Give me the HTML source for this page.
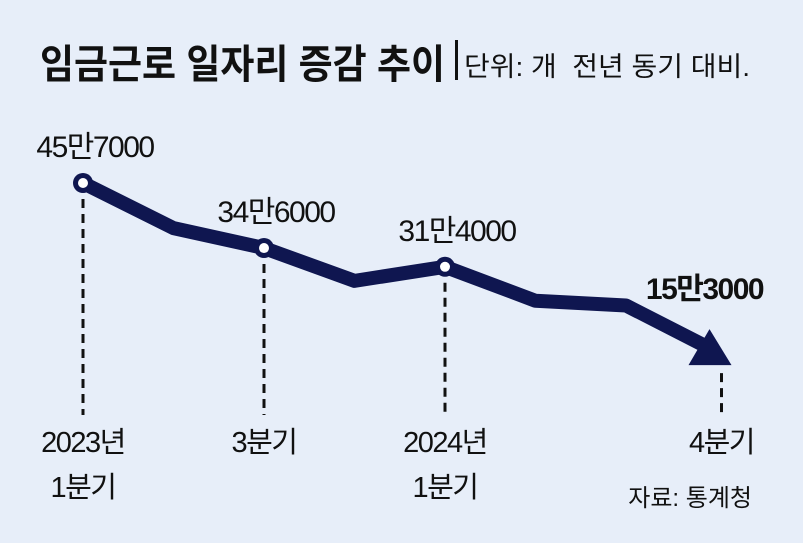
<!DOCTYPE html>
<html><head><meta charset="utf-8"><style>
body{margin:0;background:#e7eef9;}
svg{display:block;font-family:"Liberation Sans","Noto Sans CJK KR",sans-serif;}
</style></head><body>
<svg id="c" width="803" height="543" viewBox="0 0 803 543">
<rect width="803" height="543" fill="#e7eef9"/>
<text x="40" y="78" font-size="40" font-weight="bold" fill="#111" textLength="405" lengthAdjust="spacingAndGlyphs">임금근로 일자리 증감 추이</text>
<rect x="455" y="40" width="3" height="40" fill="#111"/>
<text x="464" y="76" font-size="27" fill="#111" textLength="286" lengthAdjust="spacingAndGlyphs">단위: 개 &#160;전년 동기 대비.</text>
<text x="752" y="506" font-size="24" fill="#111" text-anchor="end">자료: 통계청</text>
<g id="g"></g>
</svg>
<script>
const quarters=["2023Q1","2023Q2","2023Q3","2023Q4","2024Q1","2024Q2","2024Q3","2024Q4"];
const values=[45.7,38.0,34.6,29.0,31.4,25.6,24.8,15.3];
const labelTexts=["45만7000","","34만6000","","31만4000","","","15만3000"];
const axisLine1=["2023년","","3분기","","2024년","","","4분기"];
const axisLine2=["1분기","","","","1분기","","",""];
const NS="http://www.w3.org/2000/svg";
const g=document.getElementById('g');
const xs=i=>83+i*90.5;
const ys=v=>183+(45.7-v)*5.86;
function mk(t,a){const e=document.createElementNS(NS,t);for(const k in a)e.setAttribute(k,a[k]);g.appendChild(e);return e;}
const n=values.length;
for(let i=0;i<n;i++){if(!axisLine1[i])continue;
 const last=i===n-1;const x=xs(i)+(last?5:0);
 const y0=last?ys(values[i])+12:ys(values[i])+16;
 const d=mk('line',{x1:x,y1:y0,x2:x,y2:415,stroke:'#111','stroke-width':3,'stroke-dasharray':'9 6'});
 
 
}
let pts=[];for(let i=0;i<n-1;i++)pts.push(xs(i)+','+ys(values[i]));
const lx=xs(n-1)-6,ly=ys(values[n-1]);
pts.push((lx-3)+','+(ly-14));
const pl=mk('polyline',{points:pts.join(' '),fill:'none',stroke:'#0f1650','stroke-width':14,'stroke-linejoin':'round'});


const ar=mk('polygon',{points:(lx-1)+','+(ly-32)+' '+(lx-22)+','+(ly+4)+' '+(lx+21)+','+(ly+4),fill:'#0f1650'});


for(let i=0;i<n-1;i++){if(!labelTexts[i])continue;
 const c=mk('circle',{cx:xs(i),cy:ys(values[i]),r:10,fill:'#0f1650'});
 
 
 const w=mk('circle',{cx:xs(i),cy:ys(values[i]),r:5,fill:'#fff'});
 
 
}
for(let i=0;i<n;i++){
 if(labelTexts[i]){const last=i===n-1;
  const t=mk('text',{x:xs(i)+(last?-12:12),y:ys(values[i])+(last?-62:-26),'font-size':30,'text-anchor':'middle',fill:'#111','letter-spacing':-1.5,'font-weight':last?'bold':'normal'});
  t.textContent=labelTexts[i];
  
  }
 const x=xs(i)+(i===n-1?5:0);
 if(axisLine1[i]){const t=mk('text',{x:x,y:452,'font-size':29,'text-anchor':'middle',fill:'#111','letter-spacing':-1.5});t.textContent=axisLine1[i];
  
  }
 if(axisLine2[i]){const t=mk('text',{x:x,y:497,'font-size':29,'text-anchor':'middle',fill:'#111','letter-spacing':-1.5});t.textContent=axisLine2[i];
  
  }
}
</script>
</body></html>
